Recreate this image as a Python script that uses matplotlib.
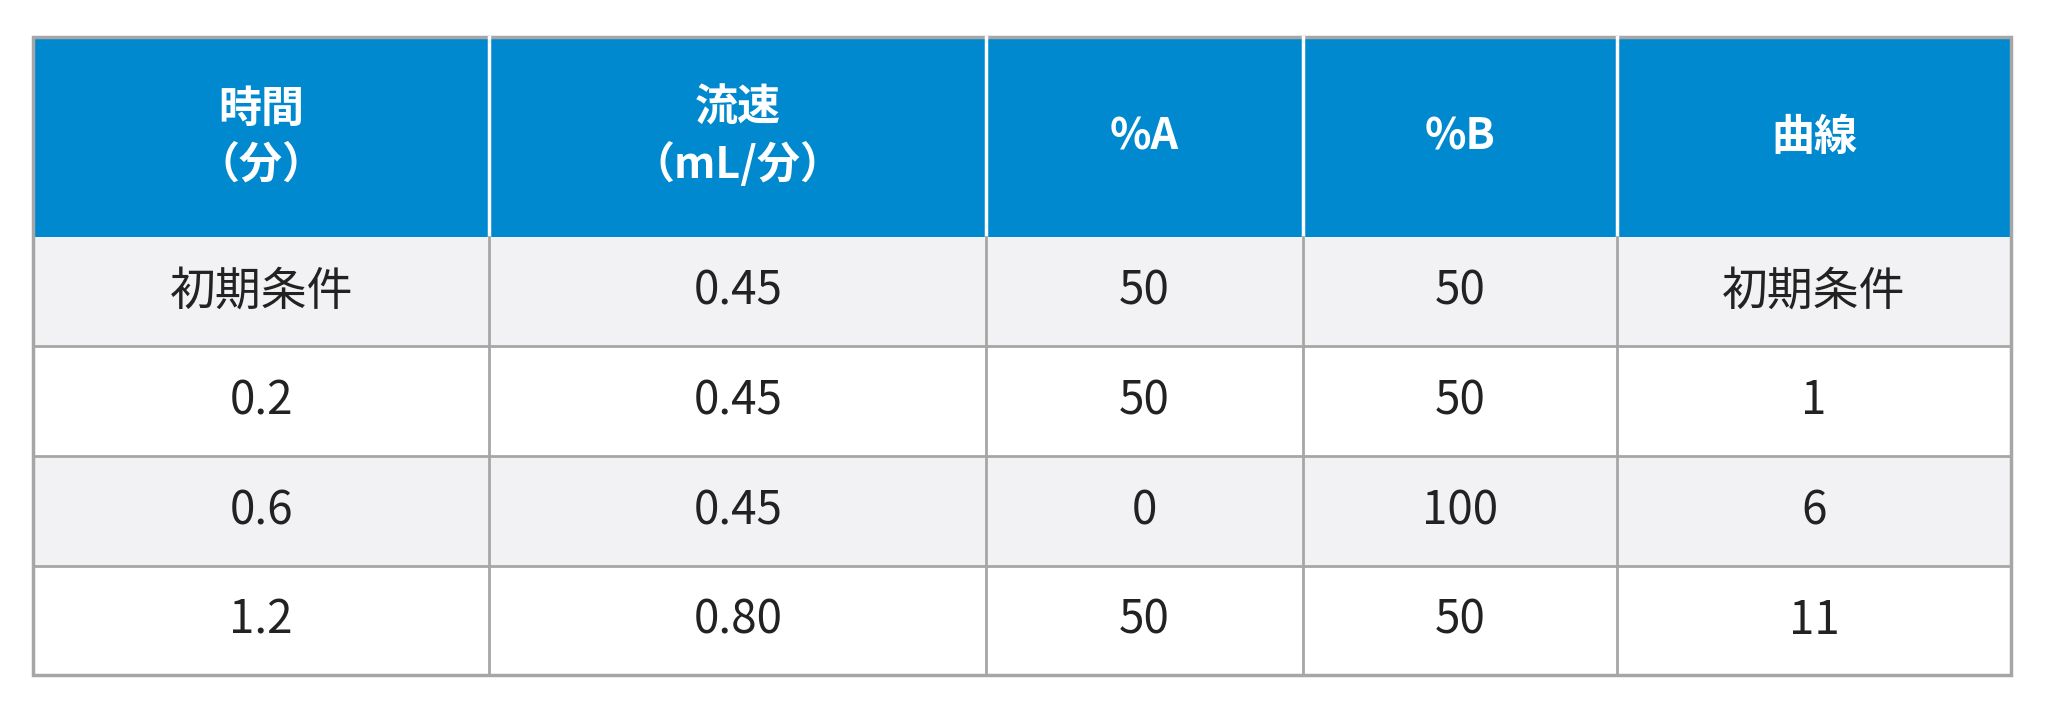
import matplotlib
matplotlib.use("Agg")
import matplotlib.pyplot as plt
from matplotlib.patches import Rectangle

plt.rcParams['font.family'] = ['Noto Sans CJK JP', 'DejaVu Sans']

headers = ["時間\n（分）", "流速\n（mL/分）", "%A", "%B", "曲線"]
col_time = ["初期条件", "0.2", "0.6", "1.2"]
col_flow = ["0.45", "0.45", "0.45", "0.80"]
col_a = ["50", "50", "0", "50"]
col_b = ["50", "50", "100", "50"]
col_curve = ["初期条件", "1", "6", "11"]
columns = [col_time, col_flow, col_a, col_b, col_curve]

xs = [0.016, 0.239, 0.4815, 0.636, 0.7895, 0.982]
ys = [0.949, 0.670, 0.517, 0.364, 0.211, 0.058]  # top to bottom

fig = plt.figure(figsize=(20.48, 7.17), dpi=100)
ax = fig.add_axes([0, 0, 1, 1])
ax.set_xlim(0, 1); ax.set_ylim(0, 1); ax.axis('off')

blue = '#0089CF'
grid = '#A6A6A6'
# header
ax.add_patch(Rectangle((xs[0], ys[1]), xs[-1]-xs[0], ys[0]-ys[1], fc=blue, ec='none'))
for r in range(4):
    fc = '#F2F2F4' if r % 2 == 0 else 'white'
    ax.add_patch(Rectangle((xs[0], ys[r+2]), xs[-1]-xs[0], ys[r+1]-ys[r+2], fc=fc, ec='none'))
# lines
for x in xs[1:-1]:
    ax.plot([x, x], [ys[1], ys[0]], color='white', lw=2.5)
    ax.plot([x, x], [ys[-1], ys[1]], color=grid, lw=2)
for y in ys[2:-1]:
    ax.plot([xs[0], xs[-1]], [y, y], color=grid, lw=2)
ax.add_patch(Rectangle((xs[0], ys[-1]), xs[-1]-xs[0], ys[0]-ys[-1], fc='none', ec=grid, lw=2.5))

for c, h in enumerate(headers):
    cx = (xs[c] + xs[c+1]) / 2
    ax.text(cx, (ys[0]+ys[1])/2, h, ha='center', va='center', color='white',
            fontsize=31, fontweight='bold', linespacing=1.35)
    for r, v in enumerate(columns[c]):
        ax.text(cx, (ys[r+1]+ys[r+2])/2, v, ha='center', va='center', color='#222222', fontsize=33)

fig.savefig('out.png', dpi=100, facecolor='white')
